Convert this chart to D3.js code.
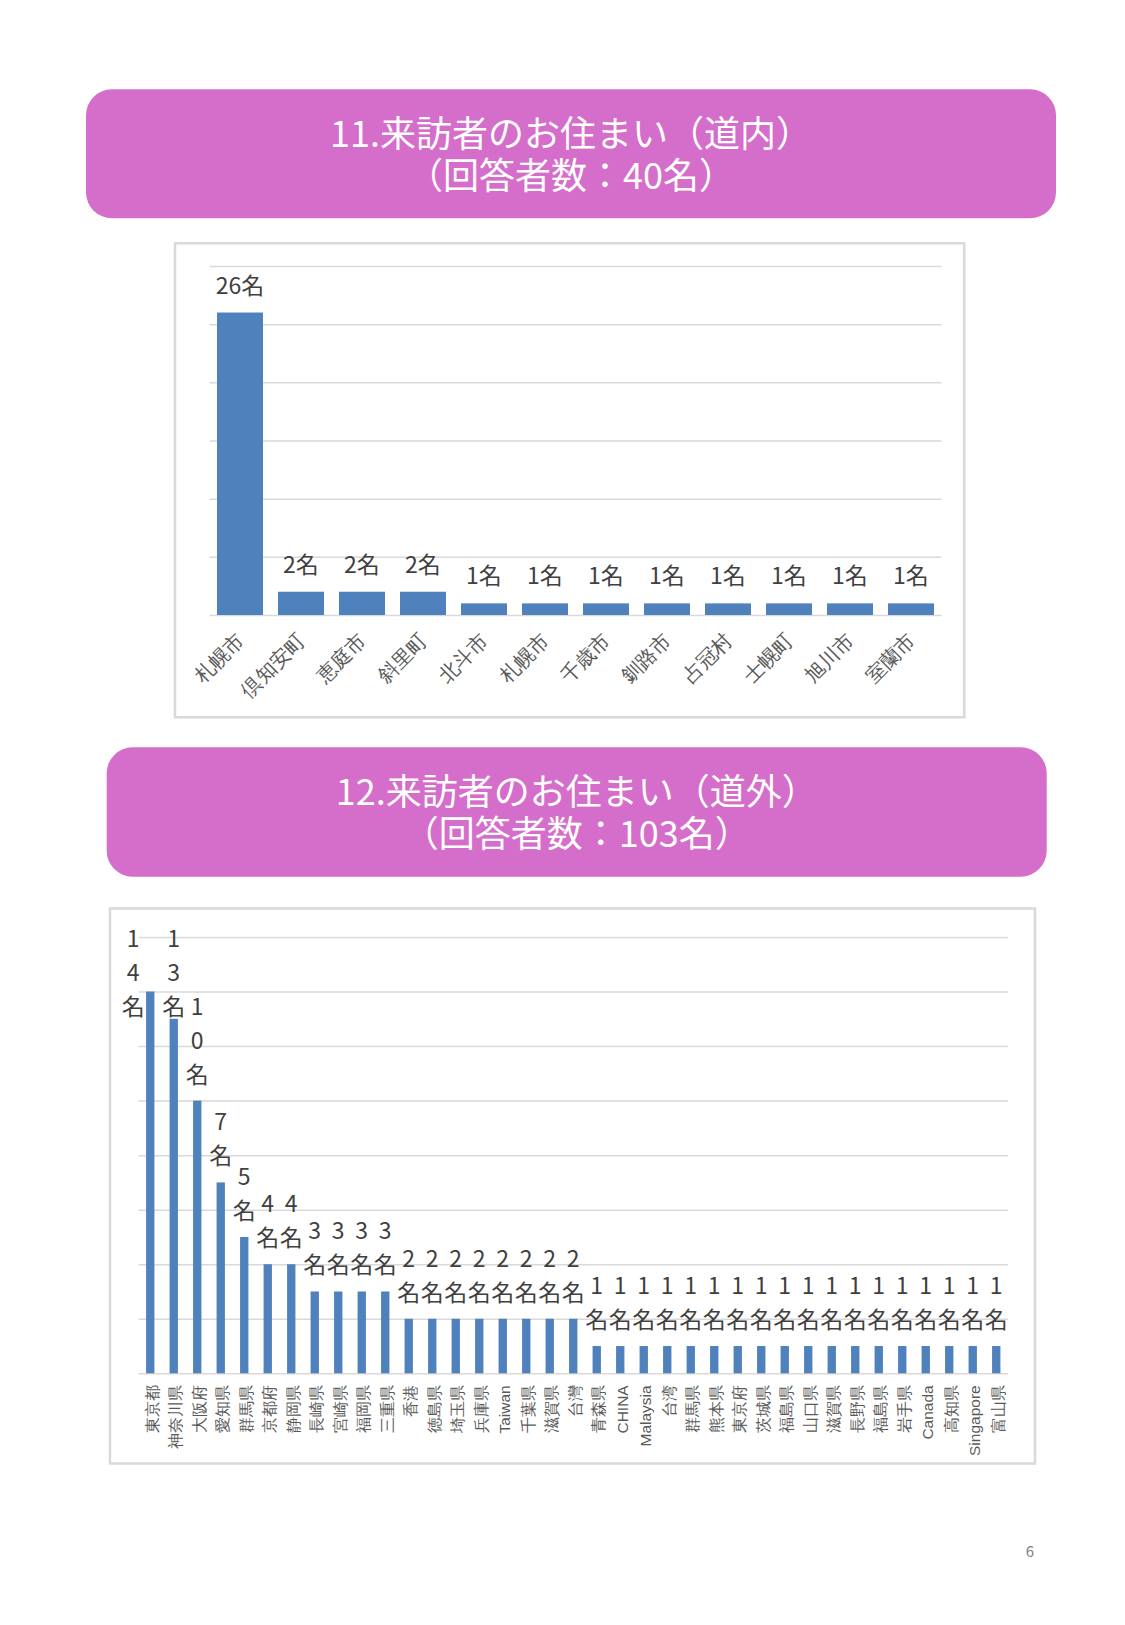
<!DOCTYPE html>
<html lang="ja">
<head>
<meta charset="utf-8">
<title>来訪者のお住まい</title>
<script src="https://cdn.jsdelivr.net/npm/d3@7"></script>
<style>
  html, body { margin: 0; padding: 0; background: #fff; }
  svg { display: block; font-family: "Noto Sans CJK JP", "Noto Sans", sans-serif; }
  .grid line { stroke: #d9d9d9; stroke-width: 1.5; }
  .grid path { display: none; }
  .xlab path { display: none; }
  .xlab text { fill: #595959; }
  .val, .val tspan { fill: #404040; dominant-baseline: central; }
  .ttl, .ttl tspan { fill: #fff; dominant-baseline: central; }
</style>
</head>
<body>
<svg id="page" width="1125" height="1625"></svg>
<script>
// 11. 道内
const innerTitle = ["11.来訪者のお住まい（道内）", "（回答者数：40名）"];
const innerNames = ["札幌市", "倶知安町", "恵庭市", "斜里町", "北斗市", "札幌市",
  "千歳市", "釧路市", "占冠村", "士幌町", "旭川市", "室蘭市"];
const innerCounts = [26, 2, 2, 2, 1, 1, 1, 1, 1, 1, 1, 1];
const innerTicks = [0, 5, 10, 15, 20, 25, 30];

// 12. 道外
const outerTitle = ["12.来訪者のお住まい（道外）", "（回答者数：103名）"];
const outerNames = ["東京都", "神奈川県", "大阪府", "愛知県", "群馬県", "京都府", "静岡県",
  "長崎県", "宮崎県", "福岡県", "三重県", "香港", "徳島県", "埼玉県", "兵庫県", "Taiwan",
  "千葉県", "滋賀県", "台灣", "青森県", "CHINA", "Malaysia", "台湾", "群馬県", "熊本県",
  "東京府", "茨城県", "福島県", "山口県", "滋賀県", "長野県", "福島県", "岩手県", "Canada",
  "高知県", "Singapore", "富山県"];
const outerCounts = [14, 13, 10, 7, 5, 4, 4, 3, 3, 3, 3, 2, 2, 2, 2, 2, 2, 2, 2,
  1, 1, 1, 1, 1, 1, 1, 1, 1, 1, 1, 1, 1, 1, 1, 1, 1, 1];
const outerTicks = [0, 2, 4, 6, 8, 10, 12, 14, 16];

const svg = d3.select("#page");
const BLUE = "#4F81BD";
const PINK = "#D56DCA";

function titleBox(lines, x0, y0, x1, y1) {
  svg.append("rect")
    .attr("x", x0).attr("y", y0)
    .attr("width", x1 - x0).attr("height", y1 - y0)
    .attr("rx", 26).attr("fill", PINK);
  const cx = (x0 + x1) / 2, cy = (y0 + y1) / 2 - 2;
  const t = svg.append("text")
    .attr("class", "ttl")
    .attr("text-anchor", "middle")
    .attr("font-size", 36);
  lines.forEach((s, i) => {
    t.append("tspan").attr("x", cx).attr("y", cy + (i - 0.5) * 41.5).text(s);
  });
}

function frame(x0, y0, x1, y1) {
  svg.append("rect")
    .attr("x", x0).attr("y", y0)
    .attr("width", x1 - x0).attr("height", y1 - y0)
    .attr("fill", "none").attr("stroke", "#d9d9d9").attr("stroke-width", 2.5);
}

function gridlines(x, y, ticks) {
  const [l, r] = x.range();
  svg.append("g")
    .attr("class", "grid")
    .attr("transform", `translate(${l},0)`)
    .call(d3.axisLeft(y).tickValues(ticks).tickSize(-(r - l)).tickFormat(""));
}

// ---- chart 11 ----
titleBox(innerTitle, 86, 89.3, 1056, 218.3);
frame(175, 243.3, 964.3, 717.3);

const x1 = d3.scaleBand()
  .domain(d3.range(innerNames.length))
  .range([209.5, 941.5])
  .paddingInner(0.246).paddingOuter(0.123);
const y1 = d3.scaleLinear().domain([0, 30]).range([615, 266]);

gridlines(x1, y1, innerTicks);

svg.append("g").selectAll("rect")
  .data(innerCounts)
  .join("rect")
  .attr("x", (d, i) => x1(i))
  .attr("y", d => y1(d))
  .attr("width", x1.bandwidth())
  .attr("height", d => y1(0) - y1(d))
  .attr("fill", BLUE);

svg.append("g").selectAll("text")
  .data(innerCounts)
  .join("text")
  .attr("class", "val")
  .attr("x", (d, i) => x1(i) + x1.bandwidth() / 2)
  .attr("y", d => y1(d) - 29)
  .attr("text-anchor", "middle")
  .attr("font-size", 23)
  .text(d => d + "名");

const ax1 = svg.append("g")
  .attr("class", "xlab")
  .attr("transform", `translate(0,${y1(0)})`)
  .call(d3.axisBottom(x1).tickSize(0).tickFormat(i => innerNames[i]));
ax1.selectAll("text")
  .attr("font-size", 20)
  .attr("text-anchor", "end")
  .attr("x", 0).attr("y", 0).attr("dy", "0.35em")
  .attr("transform", "translate(0,22) rotate(-45)");

// ---- chart 12 ----
titleBox(outerTitle, 106.7, 747.3, 1046.7, 876.7);
frame(110, 908.5, 1035, 1463.5);

const x2 = d3.scaleBand()
  .domain(d3.range(outerNames.length))
  .range([138.5, 1008])
  .paddingInner(0.645).paddingOuter(0.3225);
const y2 = d3.scaleLinear().domain([0, 16]).range([1373.3, 937]);

gridlines(x2, y2, outerTicks);

svg.append("g").selectAll("rect")
  .data(outerCounts)
  .join("rect")
  .attr("x", (d, i) => x2(i))
  .attr("y", d => y2(d))
  .attr("width", x2.bandwidth())
  .attr("height", d => y2(0) - y2(d))
  .attr("fill", BLUE);

// narrow labels wrap one character per line, kept inside the plot top
const lineH = 34, minFirst = 936.5;
const lab2 = svg.append("g");
outerCounts.forEach((v, i) => {
  const lines = String(v).split("").concat(["名"]);
  const top = y2(v);
  let last = top - 28;
  let first = last - (lines.length - 1) * lineH;
  if (first < minFirst) { last += minFirst - first; first = minFirst; }
  const dx = last + 11 > top ? -17 : 0;
  const cx = x2(i) + x2.bandwidth() / 2 + dx;
  const t = lab2.append("text")
    .attr("class", "val")
    .attr("text-anchor", "middle")
    .attr("font-size", 23);
  lines.forEach((s, k) => {
    t.append("tspan").attr("x", cx).attr("y", first + k * lineH).text(s);
  });
});

const ax2 = svg.append("g")
  .attr("class", "xlab")
  .attr("transform", `translate(0,${y2(0)})`)
  .call(d3.axisBottom(x2).tickSize(0).tickFormat(i => outerNames[i]));
ax2.selectAll("text")
  .attr("font-size", 15.5)
  .attr("text-anchor", "end")
  .attr("x", 0).attr("y", 0).attr("dy", "0.35em")
  .attr("transform", "translate(2,12) rotate(-90)");

// page number
svg.append("text")
  .attr("x", 1030).attr("y", 1550)
  .attr("text-anchor", "middle")
  .attr("dominant-baseline", "central")
  .attr("font-size", 15)
  .attr("fill", "#7f7f7f")
  .text("6");
</script>
</body>
</html>
